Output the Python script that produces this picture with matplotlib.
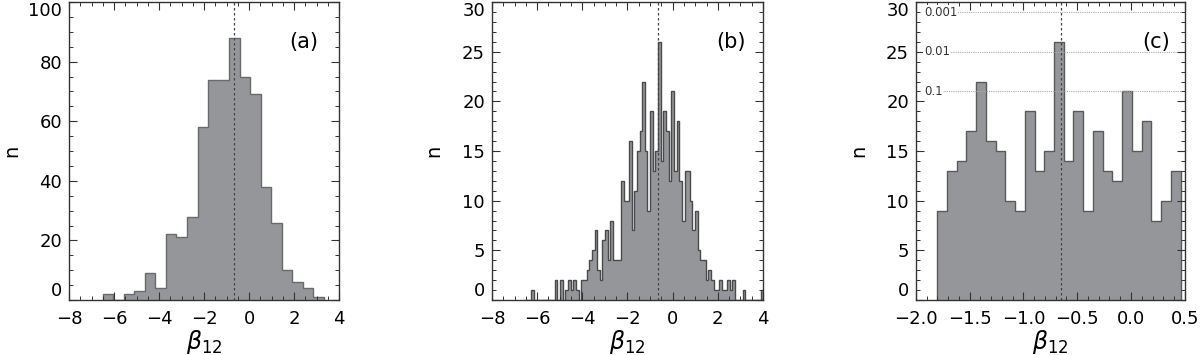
import numpy as np
import matplotlib
matplotlib.use("Agg")
import matplotlib.pyplot as plt
from matplotlib.ticker import MultipleLocator

plt.rcParams['font.family'] = ['DejaVu Sans']
plt.rcParams['mathtext.fontset'] = 'dejavusans'

# panel (a): coarse histogram of beta_12
a_start, a_width = -6.506, 0.4686
a_counts = [2, 0, 2, 3, 9, 4, 22, 21, 28, 58, 74, 74, 88, 75, 69, 38, 26, 10, 6, 4, 1]

# panel (b): fine histogram of beta_12
b_start, b_width = -6.506, 0.1172
b_counts = [0, 0, 1, 0, 0, 0, 0, 0, 0, 0,
            0, 2, 0, 2, 0, 1, 2, 1, 2, 1,
            0, 2, 2, 3, 4, 5, 7, 3, 2, 6,
            7, 4, 8, 4, 4, 4, 12, 10, 10, 16,
            7, 11, 15, 17, 22, 15, 9, 19, 13, 15,
            26, 14, 19, 17, 12, 21, 13, 18, 12, 8,
            13, 13, 10, 7, 9, 5, 4, 4, 2, 3,
            2, 1, 1, 2, 1, 1, 2, 1, 2, 0,
            0, 0, 1, 0, 0, 0, 0, 0, 0, 1]

# panel (c): zoomed histogram
c_start, c_width = -1.802, 0.0905
c_counts = [9, 13, 14, 17, 22, 16, 15, 10, 9, 19, 13, 15, 26,
            14, 19, 9, 17, 13, 12, 21, 15, 18, 8, 10, 13]

beta_mean = -0.65
sig_levels = [29, 25, 21]
sig_labels = ["0.001", "0.01", "0.1"]

fill = "#95969a"
edge_dark = "#4a4a4a"

fig = plt.figure(figsize=(12, 3.55), dpi=100)
ax_a = fig.add_axes([0.0575, 0.155, 0.225, 0.839])
ax_b = fig.add_axes([0.410, 0.155, 0.2258, 0.839])
ax_c = fig.add_axes([0.7633, 0.155, 0.224, 0.839])
axes = (ax_a, ax_b, ax_c)


def draw_hist(ax, start, width, counts, lc, lw):
    edges = start + width * np.arange(len(counts) + 1)
    ax.stairs(counts, edges, fill=True, color=fill, lw=0)
    ax.stairs(counts, edges, baseline=0, fill=False, color=lc, lw=lw)


draw_hist(ax_a, a_start, a_width, a_counts, "#6a6a6a", 1.0)
draw_hist(ax_b, b_start, b_width, b_counts, edge_dark, 1.0)
draw_hist(ax_c, c_start, c_width, c_counts, "#5a5a5a", 1.0)

for ax in axes:
    ax.axvline(beta_mean, color="#444444", lw=0.9, ls=(0, (2, 2)), zorder=3)

# significance levels in (c)
for lev, lab in zip(sig_levels, sig_labels):
    ax_c.axhline(lev, xmin=0.03, color="#aaaaaa", lw=0.8, ls=(0, (1, 1)), zorder=1)
    ax_c.text(-1.925, lev, lab, fontsize=8.5, va="center", ha="left", color="#333333",
              bbox=dict(facecolor="white", edgecolor="none", pad=0.5), zorder=2)

ax_a.set_xlim(-8, 4)
ax_a.set_ylim(0, 100)
ax_a.xaxis.set_major_locator(MultipleLocator(2))
ax_a.xaxis.set_minor_locator(MultipleLocator(0.5))
ax_a.yaxis.set_major_locator(MultipleLocator(20))
ax_a.yaxis.set_minor_locator(MultipleLocator(5))

ax_b.set_xlim(-8, 4)
ax_b.set_ylim(0, 30)
ax_b.xaxis.set_major_locator(MultipleLocator(2))
ax_b.xaxis.set_minor_locator(MultipleLocator(0.5))
ax_b.yaxis.set_major_locator(MultipleLocator(5))
ax_b.yaxis.set_minor_locator(MultipleLocator(1))

ax_c.set_xlim(-2.0, 0.5)
ax_c.set_ylim(0, 30)
ax_c.xaxis.set_major_locator(MultipleLocator(0.5))
ax_c.xaxis.set_minor_locator(MultipleLocator(0.1))
ax_c.yaxis.set_major_locator(MultipleLocator(5))
ax_c.yaxis.set_minor_locator(MultipleLocator(1))
ax_c.xaxis.set_major_formatter(lambda v, p: f"{v:.1f}".replace("-", "\u2212"))

label_x = [-0.175, -0.181, -0.178]
panel_x = [0.87, 0.882, 0.895]
for ax, lab, lx, px in zip(axes, ("(a)", "(b)", "(c)"), label_x, panel_x):
    ax.tick_params(which="both", direction="in", top=True, right=True, color="#333333")
    ax.tick_params(which="major", length=6, width=0.8, labelsize=13, pad=5)
    ax.tick_params(axis="x", which="major", pad=7)
    ax.tick_params(which="minor", length=3, width=0.7)
    for s in ax.spines.values():
        s.set_color("#333333")
        s.set_linewidth(1.0)
    ax.set_ylabel("n", fontsize=14)
    ax.yaxis.set_label_coords(lx, 0.5)
    ax.set_xlabel(r"$\beta_{12}$", fontsize=17, labelpad=0)
    ax.text(px, 0.866, lab, transform=ax.transAxes, fontsize=15, ha="center", va="center")

# keep the end labels of the y axis inside the box, as in the original
fig.canvas.draw()
for ax in axes:
    lo, hi = ax.get_ylim()
    for t in ax.yaxis.get_major_ticks():
        if abs(t.get_loc() - lo) < 1e-9:
            t.label1.set_va("bottom")
        elif abs(t.get_loc() - hi) < 1e-9:
            t.label1.set_va("top")

fig.savefig("out.png", dpi=100)
